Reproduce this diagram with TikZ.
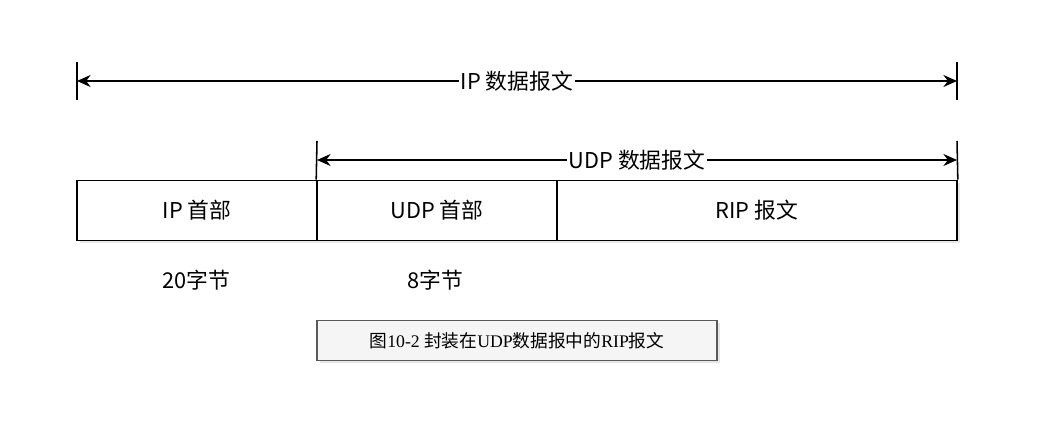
\documentclass[tikz,border=0pt]{standalone}
\usepackage{fontspec}
\setmainfont{Liberation Serif}
\newfontfamily\cjk{Noto Sans CJK SC}
\usetikzlibrary{arrows.meta,positioning,calc,shadows}

\begin{document}
\begin{tikzpicture}[x=0.025cm,y=-0.025cm,>={Stealth[length=3.4mm,width=3mm]},
 font=\cjk\fontsize{15.5}{18}\selectfont,line width=1.1pt,
 hd/.style={draw,fill=white,minimum height=1.5cm,inner sep=0pt,
  drop shadow={opacity=0.18,shadow xshift=2pt,shadow yshift=-2pt}},
 lbl/.style={fill=white,inner sep=1pt},
 figcap/.style={draw=black!65,fill=black!4,minimum width=10cm,minimum height=1cm,
  font=\rmfamily\fontsize{12.6}{15}\selectfont,
  drop shadow={opacity=0.2,shadow xshift=2pt,shadow yshift=-2pt}}]
\useasboundingbox (0,0) rectangle (1058,444);
% header boxes
\node[hd,minimum width=6cm] (iph) at (197,210.5) {IP 首部};
\node[hd,minimum width=6cm] (udph) at (437,210.5) {UDP 首部};
\node[hd,minimum width=10cm] (rip) at (757,210.5) {RIP 报文};
% sizes
\node (ipn) at (196,280) {20字节};
\node (udpn) at (435,280) {8字节};
% IP datagram span
\coordinate (ipa) at (77,62); \coordinate (ipb) at (77,100);
\coordinate (ipc) at (957,62); \coordinate (ipd) at (957,100);
\draw (ipa)--(ipb); \draw (ipc)--(ipd);
\draw[<->] ($(ipa)!0.5!(ipb)$) -- node[lbl] (ipt) {IP 数据报文} ($(ipc)!0.5!(ipd)$);
% UDP datagram span
\coordinate (uda) at (317,141); \coordinate (udc) at (957,141);
\draw (uda)--(udph.north west); \draw (udc)--(rip.north east);
\coordinate (udl) at (317,160); \coordinate (udr) at (957,160);
\draw[<->] (udl) -- node[lbl] (udt) {UDP 数据报文} (udr);
% caption
\node[figcap] (fig) at (517,340.5) {{\cjk 图}10-2 {\cjk 封装在}UDP{\cjk 数据报中的}RIP{\cjk 报文}};
\end{tikzpicture}
\end{document}
